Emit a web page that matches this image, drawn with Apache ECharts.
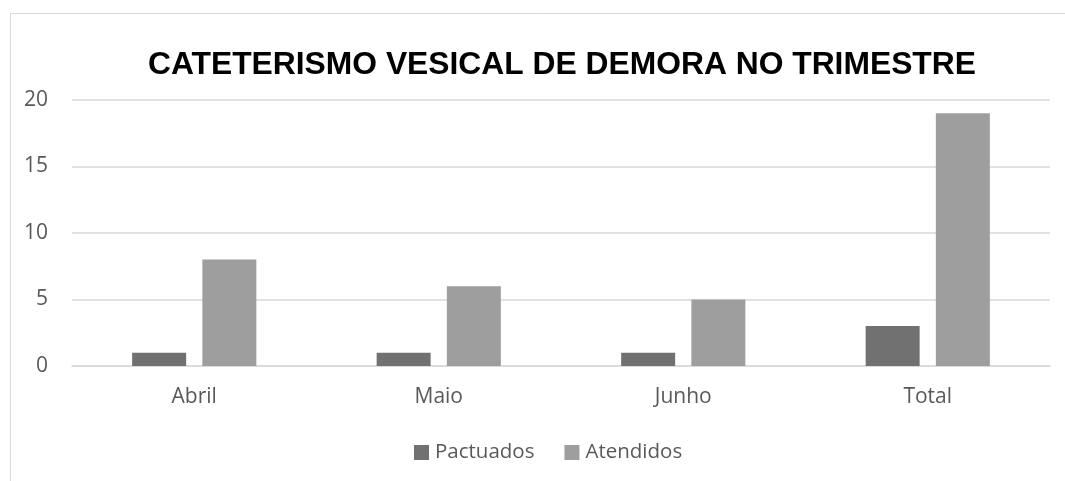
<!DOCTYPE html>
<html><head><meta charset="utf-8">
<script src="https://cdn.jsdelivr.net/npm/echarts@6/dist/echarts.min.js"></script>
<style>html,body{margin:0;padding:0;background:#fff}#c{width:1065px;height:481px}</style>
</head><body><div id="c"></div>
<script>
const categories = ['Abril', 'Maio', 'Junho', 'Total'];
const pactuados = [1, 1, 1, 3];
const atendidos = [8, 6, 5, 19];
const yTicks = [0, 5, 10, 15, 20];

const chart = echarts.init(document.getElementById('c'), null, {renderer: 'canvas'});
const font = '"Open Sans", "Noto Sans", sans-serif';
chart.setOption({
  animation: false,
  graphic: [{type: 'rect', left: 8, top: 11, shape: {width: 1200, height: 600}, style: {fill: 'none', stroke: '#d9d9d9', lineWidth: 1}}],
  title: {text: 'CATETERISMO VESICAL DE DEMORA NO TRIMESTRE', left: 143, top: 44,
    textStyle: {fontFamily: '"Liberation Sans", Arial, sans-serif', fontWeight: 'bold', fontSize: 31.8, color: '#000'}},
  legend: {top: 437, left: 409, itemWidth: 15, itemHeight: 15, itemGap: 30,
    icon: 'rect', textStyle: {fontFamily: font, fontSize: 20.5, color: '#595959', padding: [0, 0, 0, 1]},
    data: ['Pactuados', 'Atendidos']},
  grid: {left: 72, right: 15, top: 100, bottom: 115},
  xAxis: {type: 'category', data: categories,
    axisLine: {lineStyle: {color: '#d9d9d9', width: 1.5}}, axisTick: {show: false},
    axisLabel: {fontFamily: font, fontSize: 21, color: '#595959', margin: 21}},
  yAxis: {type: 'value', min: yTicks[0], max: yTicks[yTicks.length - 1], interval: 5,
    axisLine: {show: false}, axisTick: {show: false},
    splitLine: {lineStyle: {color: '#d9d9d9', width: 1.5}},
    axisLabel: {fontFamily: font, fontSize: 21, color: '#595959', margin: 24}},
  series: [
    {name: 'Pactuados', type: 'bar', data: pactuados, barWidth: 54, barGap: '30%', itemStyle: {color: '#717171'}},
    {name: 'Atendidos', type: 'bar', data: atendidos, barWidth: 54, itemStyle: {color: '#9e9e9e'}}
  ]
});
</script></body></html>
